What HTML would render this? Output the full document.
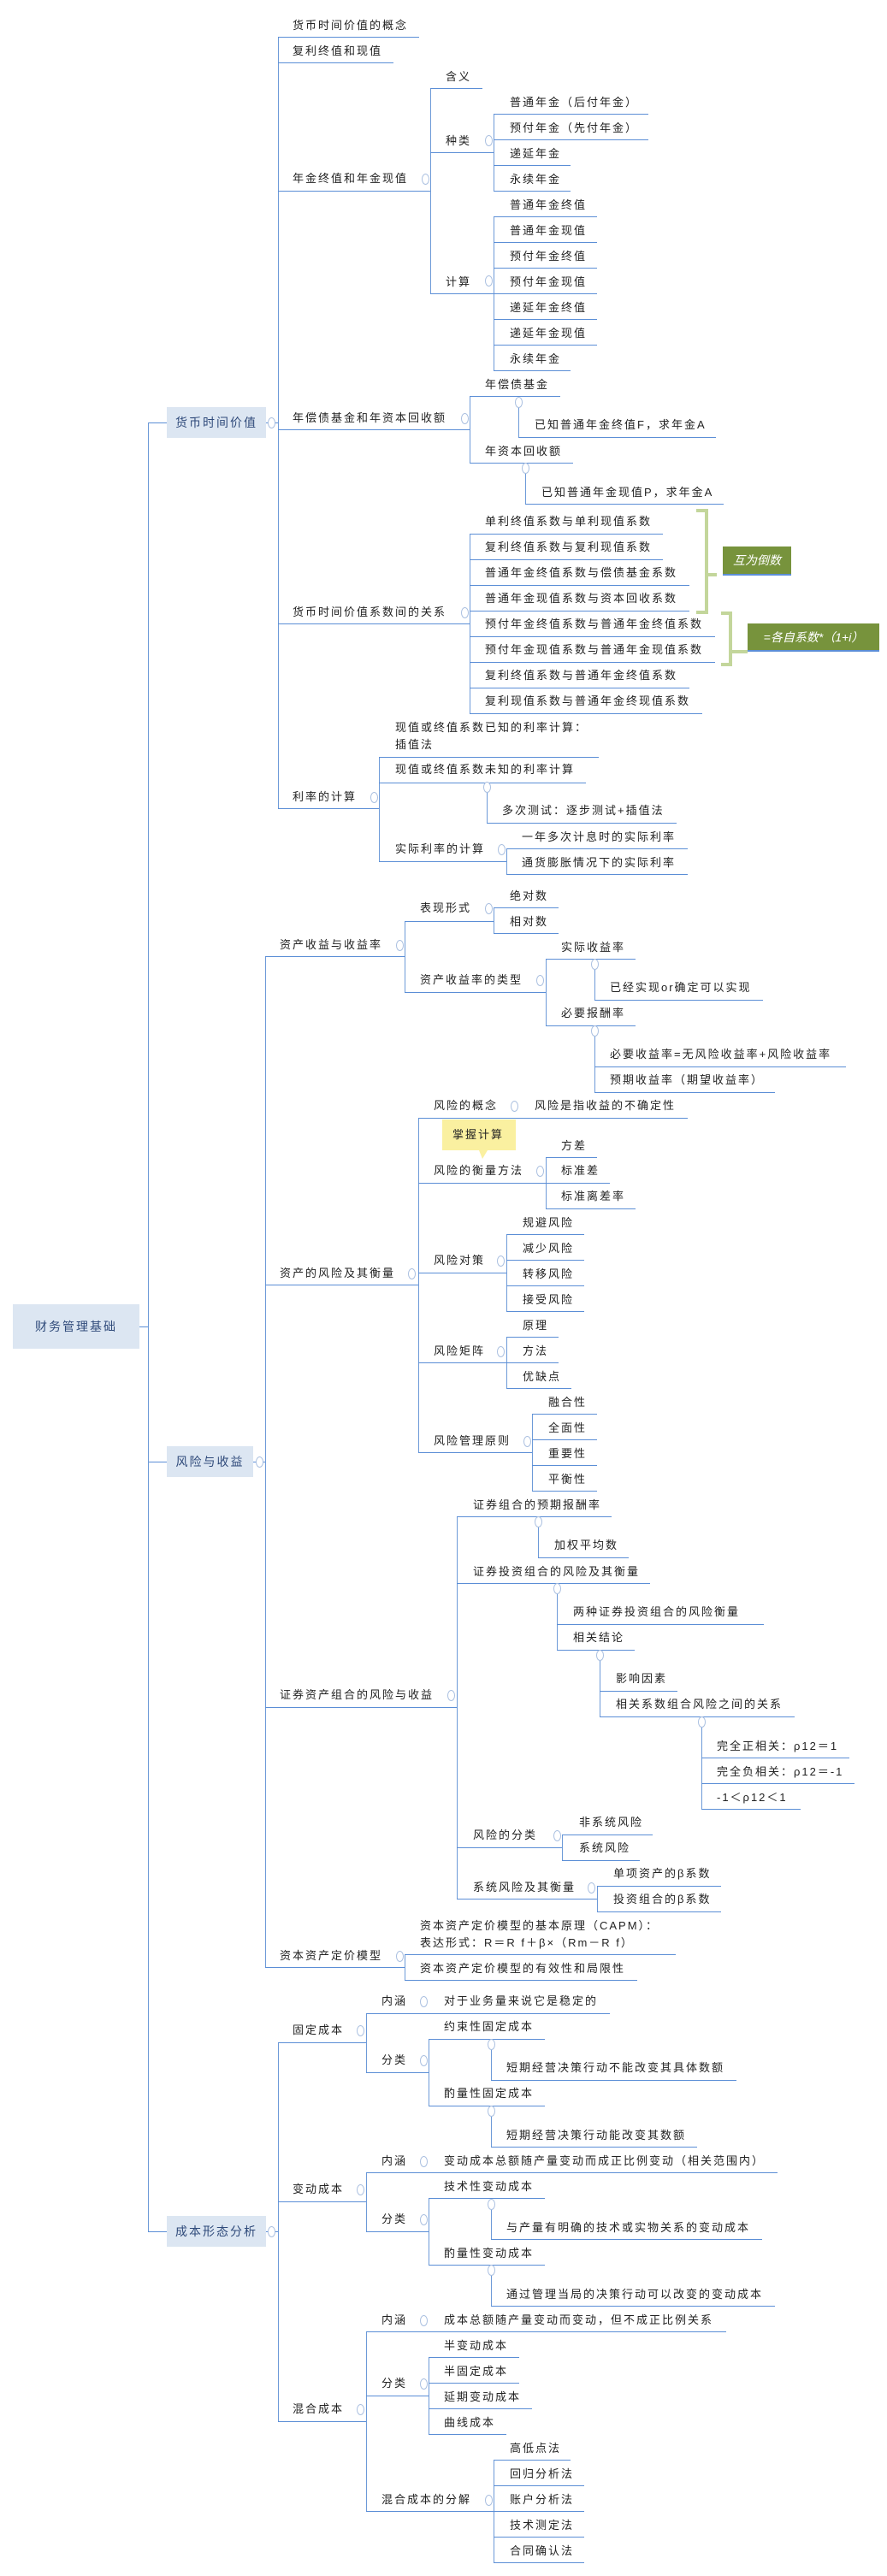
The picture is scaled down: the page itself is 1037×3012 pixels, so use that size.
<!DOCTYPE html>
<html><head><meta charset="utf-8"><style>
body{margin:0;width:1037px;height:3012px;position:relative;background:#fff;overflow:hidden}
.t{position:absolute;font-size:13px;font-family:"Liberation Sans","Noto Sans CJK SC",sans-serif;letter-spacing:2px;white-space:nowrap;line-height:16px;color:#222;margin-top:-8px}
.h{position:absolute;height:0;border-top:1.5px solid #5b8ed6}
.v{position:absolute;width:0;border-left:1px solid #6d9ad8}
.c{position:absolute;width:7px;height:11px;margin:-6px 0 0 -4px;border:1px solid #a9bfe0;border-radius:50%;background:#fff}
.n{position:absolute;background:#dce6f2;color:#2f4a7a;font-size:14px;font-family:"Liberation Sans","Noto Sans CJK SC",sans-serif;letter-spacing:2px;display:flex;align-items:center;justify-content:center}
.g{position:absolute;background:#c3d69b}
.gb{position:absolute;background:#77933c;color:#fff;font-style:italic;font-size:14px;font-family:"Liberation Sans","Noto Sans CJK SC",sans-serif;display:flex;align-items:center;justify-content:center;border-bottom:2px solid #5b8ed6}
</style></head><body>
<!-- nodes -->
<div class="n" style="left:15px;top:1525px;width:148px;height:52px">财务管理基础</div>
<div class="n" style="left:195px;top:476px;width:116px;height:36px">货币时间价值</div>
<div class="n" style="left:195px;top:1691px;width:101px;height:36px">风险与收益</div>
<div class="n" style="left:195px;top:2591px;width:116px;height:36px">成本形态分析</div>
<div class="h" style="left:163px;top:1551px;width:10px"></div>
<div class="h" style="left:173px;top:494px;width:22px"></div>
<div class="h" style="left:173px;top:1709px;width:22px"></div>
<div class="h" style="left:173px;top:2609px;width:22px"></div>
<div class="h" style="left:311px;top:494px;width:14px"></div>
<div class="h" style="left:296px;top:1709px;width:14px"></div>
<div class="h" style="left:311px;top:2609px;width:14px"></div>
<!-- verticals -->
<div class="v" style="left:173px;top:494px;height:2115px"></div>
<div class="v" style="left:325px;top:43px;height:902px"></div>
<div class="v" style="left:503px;top:103px;height:240px"></div>
<div class="v" style="left:577px;top:133px;height:90px"></div>
<div class="v" style="left:577px;top:253px;height:180px"></div>
<div class="v" style="left:549px;top:463px;height:78px"></div>
<div class="v" style="left:549px;top:624px;height:210px"></div>
<div class="v" style="left:606px;top:470px;height:41px"></div>
<div class="v" style="left:614px;top:547px;height:42px"></div>
<div class="v" style="left:443px;top:885px;height:122px"></div>
<div class="v" style="left:569px;top:920px;height:42px"></div>
<div class="v" style="left:592px;top:992px;height:30px"></div>
<div class="v" style="left:310px;top:1118px;height:1182px"></div>
<div class="v" style="left:473px;top:1077px;height:83px"></div>
<div class="v" style="left:473px;top:2285px;height:30px"></div>
<div class="v" style="left:577px;top:1061px;height:30px"></div>
<div class="v" style="left:638px;top:1121px;height:78px"></div>
<div class="v" style="left:638px;top:1353px;height:60px"></div>
<div class="v" style="left:695px;top:1127px;height:42px"></div>
<div class="v" style="left:695px;top:1205px;height:72px"></div>
<div class="v" style="left:489px;top:1307px;height:391px"></div>
<div class="v" style="left:592px;top:1443px;height:90px"></div>
<div class="v" style="left:592px;top:1563px;height:60px"></div>
<div class="v" style="left:622px;top:1653px;height:90px"></div>
<div class="v" style="left:534px;top:1773px;height:447px"></div>
<div class="v" style="left:629px;top:1779px;height:42px"></div>
<div class="v" style="left:651px;top:1857px;height:72px"></div>
<div class="v" style="left:701px;top:1935px;height:72px"></div>
<div class="v" style="left:820px;top:2013px;height:102px"></div>
<div class="v" style="left:657px;top:2145px;height:30px"></div>
<div class="v" style="left:698px;top:2205px;height:30px"></div>
<div class="v" style="left:325px;top:2388px;height:443px"></div>
<div class="v" style="left:428px;top:2354px;height:69px"></div>
<div class="v" style="left:428px;top:2540px;height:69px"></div>
<div class="v" style="left:428px;top:2726px;height:210px"></div>
<div class="v" style="left:501px;top:2384px;height:78px"></div>
<div class="v" style="left:501px;top:2570px;height:78px"></div>
<div class="v" style="left:501px;top:2756px;height:90px"></div>
<div class="v" style="left:574px;top:2390px;height:42px"></div>
<div class="v" style="left:574px;top:2468px;height:42px"></div>
<div class="v" style="left:574px;top:2577px;height:41px"></div>
<div class="v" style="left:574px;top:2654px;height:42px"></div>
<div class="v" style="left:577px;top:2876px;height:120px"></div>
<!-- horizontals -->
<div class="h" style="left:325px;top:43px;width:165px"></div>
<div class="h" style="left:325px;top:73px;width:135px"></div>
<div class="h" style="left:503px;top:103px;width:61px"></div>
<div class="h" style="left:577px;top:133px;width:181px"></div>
<div class="h" style="left:577px;top:163px;width:181px"></div>
<div class="h" style="left:503px;top:178px;width:74px"></div>
<div class="h" style="left:577px;top:193px;width:90px"></div>
<div class="h" style="left:325px;top:223px;width:178px"></div>
<div class="h" style="left:577px;top:223px;width:90px"></div>
<div class="h" style="left:577px;top:253px;width:121px"></div>
<div class="h" style="left:577px;top:283px;width:121px"></div>
<div class="h" style="left:577px;top:313px;width:121px"></div>
<div class="h" style="left:577px;top:343px;width:121px"></div>
<div class="h" style="left:503px;top:343px;width:74px"></div>
<div class="h" style="left:577px;top:373px;width:121px"></div>
<div class="h" style="left:577px;top:403px;width:121px"></div>
<div class="h" style="left:577px;top:433px;width:90px"></div>
<div class="h" style="left:549px;top:463px;width:106px"></div>
<div class="h" style="left:606px;top:511px;width:231px"></div>
<div class="h" style="left:325px;top:502px;width:224px"></div>
<div class="h" style="left:549px;top:541px;width:121px"></div>
<div class="h" style="left:614px;top:589px;width:232px"></div>
<div class="h" style="left:549px;top:624px;width:226px"></div>
<div class="h" style="left:549px;top:654px;width:226px"></div>
<div class="h" style="left:549px;top:684px;width:257px"></div>
<div class="h" style="left:549px;top:714px;width:257px"></div>
<div class="h" style="left:325px;top:729px;width:224px"></div>
<div class="h" style="left:549px;top:744px;width:287px"></div>
<div class="h" style="left:549px;top:774px;width:287px"></div>
<div class="h" style="left:549px;top:804px;width:257px"></div>
<div class="h" style="left:549px;top:834px;width:272px"></div>
<div class="h" style="left:443px;top:885px;width:257px"></div>
<div class="h" style="left:443px;top:915px;width:242px"></div>
<div class="h" style="left:325px;top:945px;width:118px"></div>
<div class="h" style="left:569px;top:962px;width:222px"></div>
<div class="h" style="left:592px;top:992px;width:212px"></div>
<div class="h" style="left:443px;top:1007px;width:149px"></div>
<div class="h" style="left:592px;top:1022px;width:212px"></div>
<div class="h" style="left:473px;top:1077px;width:104px"></div>
<div class="h" style="left:577px;top:1061px;width:76px"></div>
<div class="h" style="left:577px;top:1091px;width:76px"></div>
<div class="h" style="left:310px;top:1118px;width:163px"></div>
<div class="h" style="left:638px;top:1121px;width:105px"></div>
<div class="h" style="left:473px;top:1160px;width:165px"></div>
<div class="h" style="left:695px;top:1169px;width:197px"></div>
<div class="h" style="left:638px;top:1199px;width:105px"></div>
<div class="h" style="left:695px;top:1247px;width:294px"></div>
<div class="h" style="left:695px;top:1277px;width:211px"></div>
<div class="h" style="left:489px;top:1307px;width:315px"></div>
<div class="h" style="left:638px;top:1353px;width:60px"></div>
<div class="h" style="left:489px;top:1383px;width:224px"></div>
<div class="h" style="left:638px;top:1413px;width:105px"></div>
<div class="h" style="left:592px;top:1443px;width:91px"></div>
<div class="h" style="left:592px;top:1473px;width:91px"></div>
<div class="h" style="left:489px;top:1488px;width:103px"></div>
<div class="h" style="left:310px;top:1502px;width:179px"></div>
<div class="h" style="left:592px;top:1503px;width:91px"></div>
<div class="h" style="left:592px;top:1533px;width:91px"></div>
<div class="h" style="left:592px;top:1563px;width:61px"></div>
<div class="h" style="left:489px;top:1593px;width:164px"></div>
<div class="h" style="left:592px;top:1623px;width:76px"></div>
<div class="h" style="left:622px;top:1653px;width:76px"></div>
<div class="h" style="left:622px;top:1683px;width:76px"></div>
<div class="h" style="left:489px;top:1698px;width:133px"></div>
<div class="h" style="left:622px;top:1713px;width:76px"></div>
<div class="h" style="left:622px;top:1743px;width:76px"></div>
<div class="h" style="left:534px;top:1773px;width:181px"></div>
<div class="h" style="left:629px;top:1821px;width:106px"></div>
<div class="h" style="left:534px;top:1851px;width:226px"></div>
<div class="h" style="left:651px;top:1899px;width:242px"></div>
<div class="h" style="left:651px;top:1929px;width:91px"></div>
<div class="h" style="left:701px;top:1977px;width:91px"></div>
<div class="h" style="left:310px;top:1996px;width:224px"></div>
<div class="h" style="left:701px;top:2007px;width:228px"></div>
<div class="h" style="left:820px;top:2055px;width:173px"></div>
<div class="h" style="left:820px;top:2085px;width:179px"></div>
<div class="h" style="left:820px;top:2115px;width:116px"></div>
<div class="h" style="left:657px;top:2145px;width:106px"></div>
<div class="h" style="left:534px;top:2160px;width:123px"></div>
<div class="h" style="left:657px;top:2175px;width:91px"></div>
<div class="h" style="left:698px;top:2205px;width:145px"></div>
<div class="h" style="left:534px;top:2220px;width:164px"></div>
<div class="h" style="left:698px;top:2235px;width:145px"></div>
<div class="h" style="left:473px;top:2285px;width:317px"></div>
<div class="h" style="left:310px;top:2300px;width:163px"></div>
<div class="h" style="left:473px;top:2315px;width:272px"></div>
<div class="h" style="left:428px;top:2354px;width:285px"></div>
<div class="h" style="left:501px;top:2384px;width:136px"></div>
<div class="h" style="left:325px;top:2388px;width:103px"></div>
<div class="h" style="left:428px;top:2423px;width:73px"></div>
<div class="h" style="left:574px;top:2432px;width:287px"></div>
<div class="h" style="left:501px;top:2462px;width:136px"></div>
<div class="h" style="left:574px;top:2510px;width:241px"></div>
<div class="h" style="left:428px;top:2540px;width:481px"></div>
<div class="h" style="left:501px;top:2570px;width:136px"></div>
<div class="h" style="left:325px;top:2574px;width:103px"></div>
<div class="h" style="left:428px;top:2609px;width:73px"></div>
<div class="h" style="left:574px;top:2618px;width:317px"></div>
<div class="h" style="left:501px;top:2648px;width:136px"></div>
<div class="h" style="left:574px;top:2696px;width:332px"></div>
<div class="h" style="left:428px;top:2726px;width:421px"></div>
<div class="h" style="left:501px;top:2756px;width:106px"></div>
<div class="h" style="left:501px;top:2786px;width:106px"></div>
<div class="h" style="left:428px;top:2801px;width:73px"></div>
<div class="h" style="left:501px;top:2816px;width:121px"></div>
<div class="h" style="left:325px;top:2831px;width:103px"></div>
<div class="h" style="left:501px;top:2846px;width:91px"></div>
<div class="h" style="left:577px;top:2876px;width:90px"></div>
<div class="h" style="left:577px;top:2906px;width:106px"></div>
<div class="h" style="left:428px;top:2936px;width:149px"></div>
<div class="h" style="left:577px;top:2936px;width:106px"></div>
<div class="h" style="left:577px;top:2966px;width:106px"></div>
<div class="h" style="left:577px;top:2996px;width:106px"></div>
<!-- green brackets -->
<div class="g" style="left:814px;top:595px;width:14px;height:4px"></div>
<div class="g" style="left:824px;top:595px;width:4px;height:123px"></div>
<div class="g" style="left:814px;top:714px;width:14px;height:4px"></div>
<div class="g" style="left:826px;top:670px;width:12px;height:4px"></div>
<div class="gb" style="left:845px;top:639px;width:80px;height:32px">互为倒数</div>
<div class="g" style="left:843px;top:715px;width:13px;height:4px"></div>
<div class="g" style="left:852px;top:715px;width:4px;height:63px"></div>
<div class="g" style="left:843px;top:775px;width:13px;height:4px"></div>
<div class="g" style="left:854px;top:760px;width:20px;height:4px"></div>
<div class="gb" style="left:874px;top:729px;width:154px;height:31px">=各自系数*（1+i）</div>
<!-- callout -->
<div style="position:absolute;left:517px;top:1309px;width:86px;height:36px;background:#faf0a0"></div>
<div style="position:absolute;left:560px;top:1345px;width:0;height:0;border-left:4px solid transparent;border-right:6px solid transparent;border-top:10px solid #faf0a0"></div>
<div class="t" style="left:529px;top:1327px">掌握计算</div>
<!-- texts -->
<div class="t" style="left:342px;top:30px">货币时间价值的概念</div>
<div class="t" style="left:342px;top:60px">复利终值和现值</div>
<div class="t" style="left:521px;top:90px">含义</div>
<div class="t" style="left:521px;top:165px">种类</div>
<div class="t" style="left:342px;top:209px">年金终值和年金现值</div>
<div class="t" style="left:596px;top:120px">普通年金（后付年金）</div>
<div class="t" style="left:596px;top:150px">预付年金（先付年金）</div>
<div class="t" style="left:596px;top:180px">递延年金</div>
<div class="t" style="left:596px;top:210px">永续年金</div>
<div class="t" style="left:596px;top:240px">普通年金终值</div>
<div class="t" style="left:596px;top:270px">普通年金现值</div>
<div class="t" style="left:596px;top:300px">预付年金终值</div>
<div class="t" style="left:596px;top:330px">预付年金现值</div>
<div class="t" style="left:596px;top:360px">递延年金终值</div>
<div class="t" style="left:596px;top:390px">递延年金现值</div>
<div class="t" style="left:596px;top:420px">永续年金</div>
<div class="t" style="left:521px;top:330px">计算</div>
<div class="t" style="left:567px;top:450px">年偿债基金</div>
<div class="t" style="left:342px;top:489px">年偿债基金和年资本回收额</div>
<div class="t" style="left:625px;top:497px">已知普通年金终值F，求年金A</div>
<div class="t" style="left:567px;top:528px">年资本回收额</div>
<div class="t" style="left:633px;top:576px">已知普通年金现值P，求年金A</div>
<div class="t" style="left:567px;top:610px">单利终值系数与单利现值系数</div>
<div class="t" style="left:567px;top:640px">复利终值系数与复利现值系数</div>
<div class="t" style="left:567px;top:670px">普通年金终值系数与偿债基金系数</div>
<div class="t" style="left:567px;top:700px">普通年金现值系数与资本回收系数</div>
<div class="t" style="left:567px;top:730px">预付年金终值系数与普通年金终值系数</div>
<div class="t" style="left:567px;top:760px">预付年金现值系数与普通年金现值系数</div>
<div class="t" style="left:567px;top:790px">复利终值系数与普通年金终值系数</div>
<div class="t" style="left:567px;top:820px">复利现值系数与普通年金终现值系数</div>
<div class="t" style="left:342px;top:716px">货币时间价值系数间的关系</div>
<div class="t" style="left:462px;top:851px">现值或终值系数已知的利率计算：</div>
<div class="t" style="left:462px;top:871px">插值法</div>
<div class="t" style="left:462px;top:900px">现值或终值系数未知的利率计算</div>
<div class="t" style="left:587px;top:948px">多次测试：逐步测试+插值法</div>
<div class="t" style="left:342px;top:932px">利率的计算</div>
<div class="t" style="left:462px;top:993px">实际利率的计算</div>
<div class="t" style="left:610px;top:979px">一年多次计息时的实际利率</div>
<div class="t" style="left:610px;top:1009px">通货膨胀情况下的实际利率</div>
<div class="t" style="left:491px;top:1062px">表现形式</div>
<div class="t" style="left:596px;top:1048px">绝对数</div>
<div class="t" style="left:596px;top:1078px">相对数</div>
<div class="t" style="left:327px;top:1105px">资产收益与收益率</div>
<div class="t" style="left:491px;top:1146px">资产收益率的类型</div>
<div class="t" style="left:656px;top:1108px">实际收益率</div>
<div class="t" style="left:713px;top:1155px">已经实现or确定可以实现</div>
<div class="t" style="left:656px;top:1185px">必要报酬率</div>
<div class="t" style="left:713px;top:1233px">必要收益率=无风险收益率+风险收益率</div>
<div class="t" style="left:713px;top:1263px">预期收益率（期望收益率）</div>
<div class="t" style="left:507px;top:1293px">风险的概念</div>
<div class="t" style="left:625px;top:1293px">风险是指收益的不确定性</div>
<div class="t" style="left:656px;top:1340px">方差</div>
<div class="t" style="left:656px;top:1369px">标准差</div>
<div class="t" style="left:656px;top:1399px">标准离差率</div>
<div class="t" style="left:507px;top:1369px">风险的衡量方法</div>
<div class="t" style="left:611px;top:1430px">规避风险</div>
<div class="t" style="left:611px;top:1460px">减少风险</div>
<div class="t" style="left:611px;top:1490px">转移风险</div>
<div class="t" style="left:611px;top:1520px">接受风险</div>
<div class="t" style="left:507px;top:1474px">风险对策</div>
<div class="t" style="left:327px;top:1489px">资产的风险及其衡量</div>
<div class="t" style="left:611px;top:1550px">原理</div>
<div class="t" style="left:611px;top:1580px">方法</div>
<div class="t" style="left:611px;top:1610px">优缺点</div>
<div class="t" style="left:507px;top:1580px">风险矩阵</div>
<div class="t" style="left:641px;top:1640px">融合性</div>
<div class="t" style="left:641px;top:1670px">全面性</div>
<div class="t" style="left:641px;top:1700px">重要性</div>
<div class="t" style="left:641px;top:1730px">平衡性</div>
<div class="t" style="left:507px;top:1685px">风险管理原则</div>
<div class="t" style="left:553px;top:1760px">证券组合的预期报酬率</div>
<div class="t" style="left:648px;top:1807px">加权平均数</div>
<div class="t" style="left:553px;top:1838px">证券投资组合的风险及其衡量</div>
<div class="t" style="left:670px;top:1885px">两种证券投资组合的风险衡量</div>
<div class="t" style="left:670px;top:1915px">相关结论</div>
<div class="t" style="left:720px;top:1963px">影响因素</div>
<div class="t" style="left:720px;top:1993px">相关系数组合风险之间的关系</div>
<div class="t" style="left:327px;top:1982px">证券资产组合的风险与收益</div>
<div class="t" style="left:838px;top:2042px">完全正相关：ρ12＝1</div>
<div class="t" style="left:838px;top:2072px">完全负相关：ρ12＝-1</div>
<div class="t" style="left:838px;top:2102px">-1＜ρ12＜1</div>
<div class="t" style="left:677px;top:2131px">非系统风险</div>
<div class="t" style="left:677px;top:2161px">系统风险</div>
<div class="t" style="left:553px;top:2146px">风险的分类</div>
<div class="t" style="left:717px;top:2191px">单项资产的β系数</div>
<div class="t" style="left:717px;top:2221px">投资组合的β系数</div>
<div class="t" style="left:553px;top:2207px">系统风险及其衡量</div>
<div class="t" style="left:491px;top:2252px">资本资产定价模型的基本原理（CAPM）：</div>
<div class="t" style="left:491px;top:2272px">表达形式：R＝R f＋β×（Rm－R f）</div>
<div class="t" style="left:327px;top:2287px">资本资产定价模型</div>
<div class="t" style="left:491px;top:2302px">资本资产定价模型的有效性和局限性</div>
<div class="t" style="left:446px;top:2340px">内涵</div>
<div class="t" style="left:519px;top:2340px">对于业务量来说它是稳定的</div>
<div class="t" style="left:342px;top:2374px">固定成本</div>
<div class="t" style="left:519px;top:2370px">约束性固定成本</div>
<div class="t" style="left:446px;top:2409px">分类</div>
<div class="t" style="left:592px;top:2418px">短期经营决策行动不能改变其具体数额</div>
<div class="t" style="left:519px;top:2448px">酌量性固定成本</div>
<div class="t" style="left:592px;top:2497px">短期经营决策行动能改变其数额</div>
<div class="t" style="left:446px;top:2527px">内涵</div>
<div class="t" style="left:519px;top:2527px">变动成本总额随产量变动而成正比例变动（相关范围内）</div>
<div class="t" style="left:342px;top:2560px">变动成本</div>
<div class="t" style="left:519px;top:2557px">技术性变动成本</div>
<div class="t" style="left:446px;top:2595px">分类</div>
<div class="t" style="left:592px;top:2605px">与产量有明确的技术或实物关系的变动成本</div>
<div class="t" style="left:519px;top:2635px">酌量性变动成本</div>
<div class="t" style="left:592px;top:2683px">通过管理当局的决策行动可以改变的变动成本</div>
<div class="t" style="left:446px;top:2713px">内涵</div>
<div class="t" style="left:519px;top:2713px">成本总额随产量变动而变动，但不成正比例关系</div>
<div class="t" style="left:519px;top:2743px">半变动成本</div>
<div class="t" style="left:519px;top:2773px">半固定成本</div>
<div class="t" style="left:519px;top:2803px">延期变动成本</div>
<div class="t" style="left:519px;top:2833px">曲线成本</div>
<div class="t" style="left:446px;top:2787px">分类</div>
<div class="t" style="left:342px;top:2817px">混合成本</div>
<div class="t" style="left:596px;top:2863px">高低点法</div>
<div class="t" style="left:596px;top:2893px">回归分析法</div>
<div class="t" style="left:596px;top:2923px">账户分析法</div>
<div class="t" style="left:596px;top:2953px">技术测定法</div>
<div class="t" style="left:596px;top:2983px">合同确认法</div>
<div class="t" style="left:446px;top:2923px">混合成本的分解</div>
<!-- collapse circles -->
<div class="c" style="left:571px;top:164px"></div><div class="c" style="left:497px;top:209px"></div>
<div class="c" style="left:571px;top:328px"></div><div class="c" style="left:543px;top:489px"></div>
<div class="c" style="left:606px;top:470px"></div><div class="c" style="left:614px;top:547px"></div>
<div class="c" style="left:543px;top:716px"></div><div class="c" style="left:437px;top:932px"></div>
<div class="c" style="left:569px;top:920px"></div><div class="c" style="left:586px;top:993px"></div>
<div class="c" style="left:571px;top:1062px"></div><div class="c" style="left:467px;top:1105px"></div>
<div class="c" style="left:631px;top:1146px"></div><div class="c" style="left:695px;top:1127px"></div>
<div class="c" style="left:695px;top:1205px"></div><div class="c" style="left:601px;top:1293px"></div>
<div class="c" style="left:631px;top:1369px"></div><div class="c" style="left:585px;top:1474px"></div>
<div class="c" style="left:481px;top:1489px"></div><div class="c" style="left:585px;top:1580px"></div>
<div class="c" style="left:616px;top:1685px"></div><div class="c" style="left:303px;top:1709px"></div>
<div class="c" style="left:629px;top:1779px"></div><div class="c" style="left:651px;top:1857px"></div>
<div class="c" style="left:701px;top:1935px"></div><div class="c" style="left:527px;top:1982px"></div>
<div class="c" style="left:820px;top:2013px"></div><div class="c" style="left:651px;top:2146px"></div>
<div class="c" style="left:691px;top:2207px"></div><div class="c" style="left:467px;top:2287px"></div>
<div class="c" style="left:495px;top:2340px"></div><div class="c" style="left:421px;top:2374px"></div>
<div class="c" style="left:574px;top:2390px"></div><div class="c" style="left:495px;top:2409px"></div>
<div class="c" style="left:574px;top:2468px"></div><div class="c" style="left:495px;top:2527px"></div>
<div class="c" style="left:421px;top:2560px"></div><div class="c" style="left:574px;top:2577px"></div>
<div class="c" style="left:495px;top:2595px"></div><div class="c" style="left:574px;top:2654px"></div>
<div class="c" style="left:317px;top:2609px"></div><div class="c" style="left:495px;top:2713px"></div>
<div class="c" style="left:495px;top:2787px"></div><div class="c" style="left:421px;top:2817px"></div>
<div class="c" style="left:571px;top:2923px"></div><div class="c" style="left:317px;top:494px"></div>
</body></html>
